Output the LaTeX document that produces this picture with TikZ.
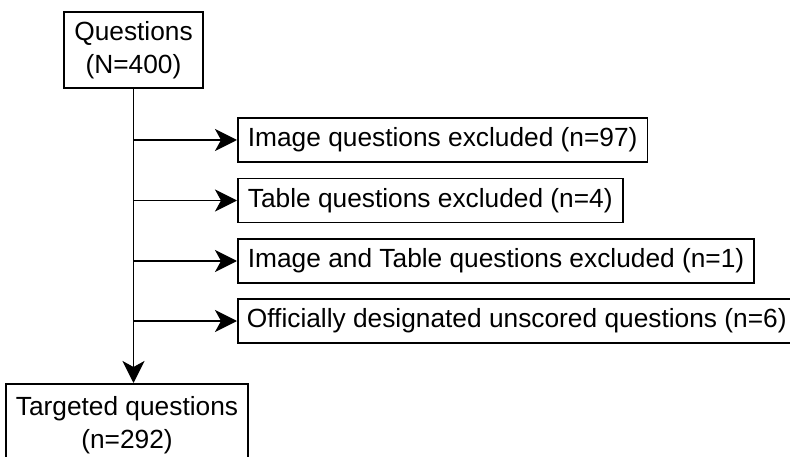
\documentclass[tikz,border=0pt]{standalone}
\usepackage{fontspec}
\setmainfont{Liberation Sans}
\usetikzlibrary{arrows.meta}
\begin{document}
\begin{tikzpicture}[x=1pt,y=-1pt,
  box/.style={draw, line width=1.8pt, rectangle, inner xsep=10pt, inner ysep=0pt,
    font=\fontsize{26.3}{33}\selectfont, align=center},
  exbox/.style={box, anchor=west, minimum height=44pt},
  arr/.style={line width=1.8pt, -{Stealth[length=22pt,width=22pt,inset=6pt]}}]
\useasboundingbox (0,0) rectangle (790,457);
\node[box, minimum width=139pt, minimum height=76pt] (q) at (133.5,50) {Questions\\(N=400)};
\node[exbox] (b1) at (237,140) {Image questions excluded (n=97)};
\node[exbox] (b2) at (237,200.5) {Table questions excluded (n=4)};
\node[exbox] (b3) at (237,261) {Image and Table questions excluded (n=1)};
\node[exbox, inner xsep=9pt] (b4) at (237,321) {Officially designated unscored questions (n=6)};
\node[box, anchor=north, minimum width=236pt, minimum height=82pt] (t) at (127,383) {Targeted questions\\(n=292)};
\draw[arr] (q.south) -- (q.south |- t.north);
\foreach \b in {b1,b2,b3,b4}{
  \draw[arr] (q.south |- \b.west) -- (\b.west);
}
\end{tikzpicture}
\end{document}
